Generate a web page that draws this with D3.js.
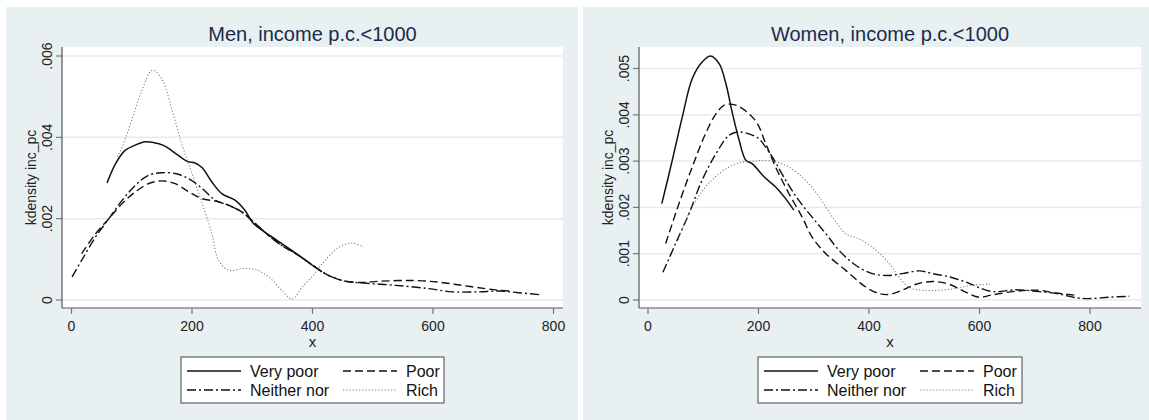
<!DOCTYPE html>
<html>
<head>
<meta charset="utf-8">
<script src="https://cdn.jsdelivr.net/npm/d3@7"></script>
<style>
  body { margin: 0; background: #fff; }
  svg { display: block; font-family: "Liberation Sans", Arial, sans-serif; }
</style>
</head>
<body>
<svg id="chart" width="1149" height="420"></svg>
<script>
// series: [income, density]
const menVeryPoor = [[59,.00288],[73,.00335],[89,.00368],[103,.00379],[123,.00389],[145,.00384],[158,.00376],[175,.00358],[192,.00341],[205,.00337],[217,.00325],[233,.0029],[250,.00261],[272,.00245],[288,.0022],[302,.00188],[340,.00148],[380,.00107],[400,.00085],[416,.00069]];
const menPoor = [[17,.00114],[40,.00163],[62,.002],[84,.00237],[106,.00266],[128,.00286],[150,.00293],[172,.00286],[195,.00266],[217,.00249],[239,.00243],[261,.00233],[283,.00216],[302,.00192],[327,.00159],[349,.00134],[372,.00114],[399,.00087],[416,.00069],[432,.00057],[455,.00046],[482,.00043],[510,.00046],[565,.00048],[609,.00044],[648,.00036],[687,.00028],[709,.00024],[730,.00022]];
const menNeither = [[1,.00057],[17,.00098],[40,.00155],[62,.002],[84,.00245],[106,.00282],[128,.00307],[150,.00313],[172,.00311],[195,.00298],[217,.00274],[239,.00245],[261,.00233],[283,.00216],[302,.00192],[327,.00159],[349,.00134],[372,.00114],[399,.00087],[416,.00069],[432,.00057],[455,.00046],[482,.00042],[538,.00036],[593,.00028],[632,.0002],[676,.0002],[709,.00022],[742,.00018],[778,.00013]];
const menRich = [[76,.00352],[84,.00376],[100,.00442],[117,.00516],[134,.00565],[150,.00544],[167,.00466],[183,.00384],[200,.00311],[217,.00237],[233,.00163],[244,.00098],[261,.00073],[283,.00077],[305,.00075],[327,.00057],[349,.00024],[366,.00002],[383,.00032],[399,.00057],[416,.00089],[444,.0013],[466,.0014],[485,.0013]];

const womenVeryPoor = [[25,.00208],[44,.00302],[62,.00395],[80,.00478],[98,.00514],[113,.00527],[129,.0051],[141,.00467],[153,.00402],[165,.00345],[177,.00302],[189,.00294],[210,.00266],[231,.00244],[249,.00219],[264,.00194]];
const womenPoor = [[32,.00122],[56,.00208],[80,.00287],[104,.00359],[123,.00402],[138,.00421],[159,.00421],[183,.00402],[198,.00381],[213,.00338],[231,.00287],[255,.0023],[279,.00179],[297,.00136],[322,.001],[358,.00064],[394,.00028],[418,.00014],[436,.00012],[460,.00021],[485,.00034],[515,.0004],[545,.00034],[575,.00017],[599,.00006],[623,.00011],[666,.00019],[708,.00021],[738,.00015],[775,.0001]];
const womenNeither = [[27,.0006],[50,.00122],[74,.00186],[98,.00259],[123,.00316],[147,.00356],[165,.00363],[189,.00356],[201,.00348],[213,.0033],[225,.00309],[249,.00259],[273,.00215],[297,.00179],[322,.00143],[346,.00107],[376,.00075],[406,.00057],[436,.00053],[460,.00057],[491,.00063],[515,.00057],[545,.0005],[575,.00039],[599,.00027],[625,.00018],[666,.00022],[708,.00018],[744,.00013],[774,.00005],[798,.00003],[834,.00006],[871,.00008]];
const womenRich = [[55,.0013],[62,.00154],[80,.00201],[104,.00244],[129,.00273],[159,.00294],[189,.003],[225,.003],[255,.00287],[285,.00259],[310,.00222],[334,.00179],[358,.00143],[382,.00132],[406,.00114],[436,.0008],[454,.0005],[472,.00028],[497,.00021],[527,.00021],[557,.00025],[587,.00032],[623,.00034]];

const xTickValues = [0, 200, 400, 600, 800];
const menYTicks = [0, .002, .004, .006];
const menYTickLabels = ["0", ".002", ".004", ".006"];
const womenYTicks = [0, .001, .002, .003, .004, .005];
const womenYTickLabels = ["0", ".001", ".002", ".003", ".004", ".005"];
const legendLabels = ["Very poor", "Poor", "Neither nor", "Rich"];

const styles = [
  { stroke: "#111", dash: null, width: 1.5 },
  { stroke: "#111", dash: "8,4", width: 1.4 },
  { stroke: "#111", dash: "9,3,2,3", width: 1.4 },
  { stroke: "#808080", dash: "1.2,2", width: 1.1 },
];

const panels = [
  {
    title: "Men, income p.c.<1000",
    box: [6, 7, 572, 413],
    plot: [62, 47, 563, 308],
    xRange: [71.5, 553.5],
    yDomain: [0, .006], yRange: [300, 56],
    yTicks: menYTicks, yLabels: menYTickLabels,
    series: [menVeryPoor, menPoor, menNeither, menRich],
    legend: [181, 357, 263, 46],
  },
  {
    title: "Women, income p.c.<1000",
    box: [583, 7, 566, 413],
    plot: [639, 47, 1141, 308],
    xRange: [648, 1090],
    yDomain: [0, .005], yRange: [300, 68.5],
    yTicks: womenYTicks, yLabels: womenYTickLabels,
    series: [womenVeryPoor, womenPoor, womenNeither, womenRich],
    legend: [758, 357, 264, 46],
  },
];

const svg = d3.select("#chart");

function drawPanel(p) {
  const g = svg.append("g");
  const [l, t, r, b] = p.plot;
  const x = d3.scaleLinear().domain([0, 800]).range(p.xRange);
  const y = d3.scaleLinear().domain(p.yDomain).range(p.yRange);

  g.append("rect").attr("x", p.box[0]).attr("y", p.box[1])
    .attr("width", p.box[2]).attr("height", p.box[3]).attr("fill", "#e9f0f2");
  g.append("rect").attr("x", l).attr("y", t)
    .attr("width", r - l).attr("height", b - t).attr("fill", "#fff");

  g.append("text").attr("x", (l + r) / 2).attr("y", 41)
    .attr("text-anchor", "middle").attr("font-size", 20).attr("fill", "#1c2b4a")
    .text(p.title);

  // gridlines
  g.selectAll(".grid").data(p.yTicks).join("line")
    .attr("x1", l).attr("x2", r)
    .attr("y1", d => y(d)).attr("y2", d => y(d))
    .attr("stroke", "#e3ecef").attr("stroke-width", 1.5);

  // y axis
  g.append("line").attr("x1", l).attr("x2", l).attr("y1", t).attr("y2", b)
    .attr("stroke", "#555").attr("stroke-width", 1.2);
  g.selectAll(".ytick").data(p.yTicks).join("line")
    .attr("x1", l - 6).attr("x2", l)
    .attr("y1", d => y(d)).attr("y2", d => y(d))
    .attr("stroke", "#777").attr("stroke-width", 1.2);
  g.selectAll(".ylab").data(p.yTicks).join("text")
    .attr("transform", d => `translate(${l - 10},${y(d)}) rotate(-90)`)
    .attr("text-anchor", "middle").attr("font-size", 14).attr("fill", "#222")
    .text((d, i) => p.yLabels[i]);
  g.append("text")
    .attr("transform", `translate(${l - 26},${(t + b) / 2}) rotate(-90)`)
    .attr("text-anchor", "middle").attr("font-size", 14).attr("fill", "#222")
    .text("kdensity inc_pc");

  // x axis
  g.append("line").attr("x1", l).attr("x2", r).attr("y1", b).attr("y2", b)
    .attr("stroke", "#555").attr("stroke-width", 1.2);
  g.selectAll(".xtick").data(xTickValues).join("line")
    .attr("x1", d => x(d)).attr("x2", d => x(d))
    .attr("y1", b).attr("y2", b + 6)
    .attr("stroke", "#777").attr("stroke-width", 1.2);
  g.selectAll(".xlab").data(xTickValues).join("text")
    .attr("x", d => x(d)).attr("y", b + 23)
    .attr("text-anchor", "middle").attr("font-size", 14).attr("fill", "#222")
    .text(d => d);
  g.append("text").attr("x", (l + r) / 2).attr("y", 347)
    .attr("text-anchor", "middle").attr("font-size", 15).attr("fill", "#222")
    .text("x");

  // curves
  const line = d3.line().x(d => x(d[0])).y(d => y(d[1]))
    .curve(d3.curveCatmullRom.alpha(0.5));
  g.selectAll(".curve").data(p.series).join("path")
    .attr("d", line).attr("fill", "none")
    .attr("stroke", (d, i) => styles[i].stroke)
    .attr("stroke-width", (d, i) => styles[i].width)
    .attr("stroke-dasharray", (d, i) => styles[i].dash);

  // legend
  const [lx, ly, lw, lh] = p.legend;
  const lg = g.append("g");
  lg.append("rect").attr("x", lx).attr("y", ly).attr("width", lw).attr("height", lh)
    .attr("fill", "#fff").attr("stroke", "#444").attr("stroke-width", 1);
  const items = legendLabels.map((label, i) => ({
    label, i,
    col: i % 2, row: Math.floor(i / 2),
  }));
  const it = lg.selectAll(".item").data(items).join("g")
    .attr("transform", d => `translate(${lx + 6 + d.col * 156},${ly + 14 + d.row * 19})`);
  it.append("line").attr("x1", 0).attr("x2", 54).attr("y1", 0).attr("y2", 0)
    .attr("stroke", d => styles[d.i].stroke)
    .attr("stroke-width", d => styles[d.i].width)
    .attr("stroke-dasharray", d => styles[d.i].dash);
  it.append("text").attr("x", 63).attr("y", 6)
    .attr("font-size", 16).attr("fill", "#111").text(d => d.label);
}

panels.forEach(drawPanel);
</script>
</body>
</html>
